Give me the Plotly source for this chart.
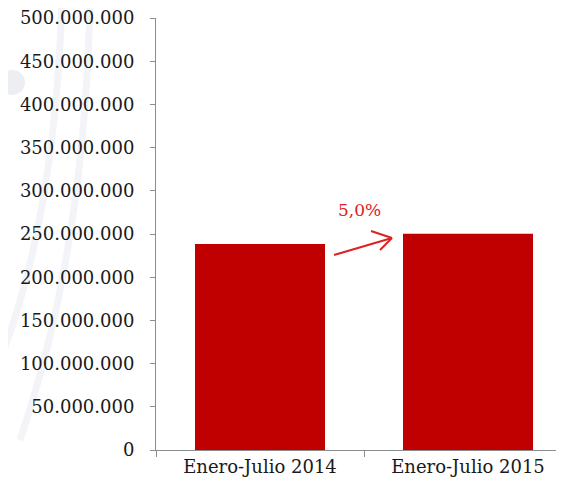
import plotly.graph_objects as go

# data
periodos = ['Enero-Julio 2014', 'Enero-Julio 2015']
valores = [238500000, 250400000]
variacion = '5,0%'
y_ticks = list(range(0, 500000001, 50000000))

# the page has an 8px body margin, so the figure is a bit smaller than the window
OFF = 8
W, H = 548, 476
L, T, B = 148, 10, 34
pw, ph = W - L, H - T - B


# page pixel -> paper coordinates
def px(x):
    return (x - OFF - L) / pw


def py(y):
    return (H - B - (y - OFF)) / ph


fig = go.Figure(
    go.Bar(
        x=periodos,
        y=valores,
        marker=dict(color='#C00000', line=dict(width=0)),
        width=0.625,
        hoverinfo='x+y',
    )
)

axis_col = '#8c8c8c'

fig.update_layout(
    width=W,
    height=H,
    margin=dict(l=L, r=0, t=T, b=B),
    paper_bgcolor='white',
    plot_bgcolor='white',
    separators=',.',
    showlegend=False,
    font=dict(family='DejaVu Serif, Liberation Serif, serif', color='#1a1a1a'),
)

fig.update_xaxes(
    type='category',
    range=[-0.5, -0.5 + pw / 208],
    showline=True, linecolor=axis_col, linewidth=1,
    ticks='outside', ticklen=6, tickcolor=axis_col,
    tickson='boundaries',
    showgrid=False,
    tickfont=dict(size=18, color='#1a1a1a'),
)
fig.update_yaxes(
    range=[0, 500000000],
    tickvals=y_ticks,
    tickformat=',.0f',
    showline=True, linecolor=axis_col, linewidth=1,
    ticks='outside', ticklen=5, tickcolor=axis_col,
    ticklabelstandoff=12,
    ticklabeloverflow='allow',
    showgrid=False, zeroline=False,
    tickfont=dict(size=18, color='#1a1a1a'),
)

# faint decoration on the left
deco = '#F2F4F7'
fig.add_shape(type='circle', xref='paper', yref='paper', layer='below',
              x0=px(0), x1=px(25), y0=py(95), y1=py(70),
              fillcolor='#ECEEF1', line=dict(width=0))
for (a, c, b) in [((62, 0), (55, 220), (0, 360)), ((90, 0), (85, 250), (20, 440))]:
    path = 'M {},{} Q {},{} {},{}'.format(px(a[0]), py(a[1]), px(c[0]), py(c[1]), px(b[0]), py(b[1]))
    fig.add_shape(type='path', xref='paper', yref='paper', layer='below',
                  path=path, line=dict(color=deco, width=7))

# growth label + arrow
red = '#E02020'
fig.add_annotation(xref='paper', yref='paper', x=px(359), y=py(210),
                   text=variacion, showarrow=False,
                   font=dict(size=17, color=red))
for (x0, y0, x1, y1) in [(334, 255, 392, 238), (371, 231, 392, 238), (380, 250, 392, 238)]:
    fig.add_shape(type='line', xref='paper', yref='paper',
                  x0=px(x0), y0=py(y0), x1=px(x1), y1=py(y1),
                  line=dict(color=red, width=2))

fig.write_html('out.html')
